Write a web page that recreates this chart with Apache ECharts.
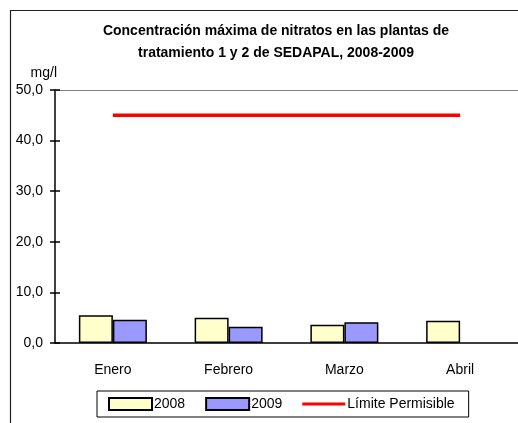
<!DOCTYPE html>
<html>
<head>
<meta charset="utf-8">
<script src="https://cdn.jsdelivr.net/npm/echarts@6/dist/echarts.min.js"></script>
<style>
  html, body { margin: 0; padding: 0; background: #fff; }
  #chart { width: 518px; height: 423px; }
</style>
</head>
<body>
<div id="chart"></div>
<script>
const months = ['Enero', 'Febrero', 'Marzo', 'Abril']
const values2008 = [5.5, 5.0, 3.6, 4.4]
const values2009 = [4.6, 3.2, 4.1, null]
const limite = [45, 45, 45, 45]
const yTicks = [0, 10, 20, 30, 40, 50]

const font = 'Liberation Sans, Arial, sans-serif'
const chart = echarts.init(document.getElementById('chart'))

const option = {
  animation: false,
  textStyle: { fontFamily: font, color: '#000' },
  title: {
    text: 'Concentración máxima de nitratos en las plantas de\ntratamiento 1 y 2 de SEDAPAL, 2008-2009',
    left: 276,
    textAlign: 'center',
    top: 20,
    padding: 0,
    textStyle: { fontFamily: font, fontSize: 14, fontWeight: 'bold', color: '#000', lineHeight: 22 }
  },
  graphic: [{
    type: 'rect',
    shape: { x: 10.5, y: 10.5, width: 600, height: 500 },
    style: { fill: 'none', stroke: '#222', lineWidth: 1.2 },
    silent: true
  }],
  legend: {
    left: 97,
    top: 391,
    padding: [6, 14, 6, 11],
    borderColor: '#000',
    borderWidth: 1,
    itemWidth: 43,
    itemHeight: 12,
    itemGap: 20,
    textStyle: { fontFamily: font, fontSize: 14, color: '#000', padding: [0, 0, 0, -3] },
    data: [
      { name: '2008', icon: 'rect' },
      { name: '2009', icon: 'rect' },
      { name: 'Límite Permisible', icon: 'path://M0,0H45V3H0Z' }
    ]
  },
  grid: { left: 55, top: 90, width: 472, height: 253 },
  xAxis: [{
    type: 'category',
    data: months,
    axisLine: { lineStyle: { color: '#000', width: 1.5 } },
    axisTick: { length: 5, lineStyle: { color: '#000', width: 1.5 } },
    axisLabel: { fontFamily: font, fontSize: 14, color: '#000', margin: 20 }
  }, {
    type: 'category',
    data: months,
    position: 'bottom',
    axisLine: { show: false },
    axisTick: { inside: true, length: 5, lineStyle: { color: '#000', width: 1.5 } },
    axisLabel: { show: false }
  }, {
    type: 'category',
    data: months,
    position: 'top',
    axisLine: { lineStyle: { color: '#808080', width: 1 } },
    axisTick: { show: false },
    axisLabel: { show: false }
  }],
  yAxis: [{
    type: 'value',
    min: yTicks[0],
    max: yTicks[yTicks.length - 1],
    interval: 10,
    name: 'mg/l',
    nameGap: 10,
    nameTextStyle: { fontFamily: font, fontSize: 14, color: '#000', align: 'right', padding: [0, -2, 0, 0] },
    axisLine: { show: true, lineStyle: { color: '#000', width: 1.5 } },
    axisTick: { show: true, length: 5, lineStyle: { color: '#000', width: 1.5 } },
    axisLabel: {
      fontFamily: font, fontSize: 14, color: '#000', margin: 12,
      formatter: v => v.toFixed(1).replace('.', ',')
    },
    splitLine: { show: false }
  }, {
    type: 'value',
    min: yTicks[0],
    max: yTicks[yTicks.length - 1],
    interval: 10,
    position: 'left',
    axisLine: { show: false },
    axisTick: { show: true, inside: true, length: 5, lineStyle: { color: '#000', width: 1.5 } },
    axisLabel: { show: false },
    splitLine: { show: false }
  }],
  series: [{
    name: '2008',
    type: 'bar',
    data: values2008,
    barWidth: 34,
    barGap: '0%',
    itemStyle: { color: '#FFFFCC', borderColor: '#000', borderWidth: 1.5 }
  }, {
    name: '2009',
    type: 'bar',
    data: values2009,
    barWidth: 34,
    barGap: '0%',
    itemStyle: { color: '#9999FF', borderColor: '#000', borderWidth: 1.5 }
  }, {
    name: 'Límite Permisible',
    type: 'line',
    data: limite,
    symbol: 'none',
    lineStyle: { color: '#FF0000', width: 3.5 },
    itemStyle: { color: '#FF0000' }
  }]
}

chart.setOption(option)
</script>
</body>
</html>
